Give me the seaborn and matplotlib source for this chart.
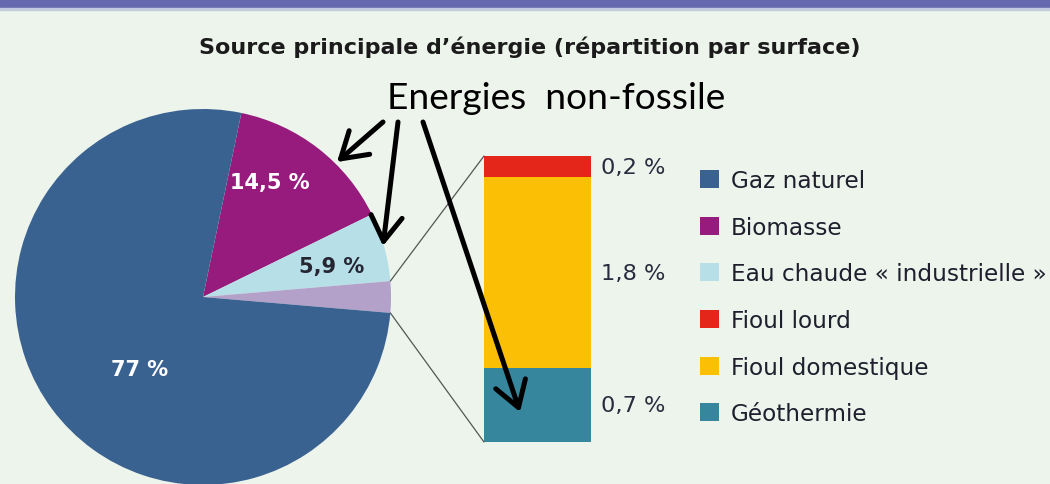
import matplotlib.pyplot as plt
import matplotlib.patches as mpatches
from matplotlib.patches import ConnectionPatch, FancyArrowPatch
import seaborn as sns
import numpy as np

# data
pie_labels = ["Biomasse", "Eau chaude « industrielle »", "Autres", "Gaz naturel"]
pie_values = [14.5, 5.9, 2.7, 77]
pie_colors = ["#971b7d", "#b6dfe8", "#b3a1c9", "#3a6291"]

bar_labels = ["Géothermie", "Fioul domestique", "Fioul lourd"]
bar_values = [0.7, 1.8, 0.2]
bar_colors = ["#36879d", "#fbc006", "#e3251a"]

legend_labels = ["Gaz naturel", "Biomasse", "Eau chaude « industrielle »",
                 "Fioul lourd", "Fioul domestique", "Géothermie"]
legend_colors = ["#3a6291", "#971b7d", "#b6dfe8", "#e3251a", "#fbc006", "#36879d"]

title = "Source principale d’énergie (répartition par surface)"
note = "Energies  non-fossile"


def fmt(v):
    return f"{v:g}".replace(".", ",") + " %"


bg = "#edf4ec"
sns.set_style("white")
plt.rcParams["font.family"] = ["DejaVu Sans"]

fig = plt.figure(figsize=(10.5, 4.85), dpi=100, facecolor=bg)
fig.patches.append(mpatches.Rectangle((0, 1 - 9 / 485), 1, 9 / 485, transform=fig.transFigure,
                                      color="#6669b0", zorder=0))
fig.patches.append(mpatches.Rectangle((0, 1 - 11 / 485), 1, 2 / 485, transform=fig.transFigure,
                                      color="#c3cbe0", zorder=0))

# pie
pax = fig.add_axes([15 / 1050, -1 / 485, 376 / 1050, 376 / 485])
total = sum(pie_values)
start = (pie_values[2] / 2 + pie_values[1] + pie_values[0]) / total * 360
pax.pie(pie_values, colors=pie_colors, startangle=start, counterclock=False,
        wedgeprops=dict(linewidth=0))
pax.set_xlim(-1, 1)
pax.set_ylim(-1, 1)
pax.axis("off")

pct_pos = [(0.356, 0.612), (0.686, 0.165), None, (-0.335, -0.383)]
pct_col = ["white", "#262633", None, "white"]
for v, p, c in zip(pie_values, pct_pos, pct_col):
    if p is None:
        continue
    pax.text(p[0], p[1], fmt(v), ha="center", va="center", fontsize=15,
             fontweight="bold", color=c)

# stacked bar
bax = fig.add_axes([484 / 1050, 42 / 485, 107 / 1050, 286 / 485])
bottoms = np.cumsum([0] + bar_values[:-1])
for v, b, c in zip(bar_values, bottoms, bar_colors):
    sns.barplot(x=[0], y=[v], bottom=b, color=c, width=1, saturation=1,
                errorbar=None, linewidth=0, ax=bax)
    bax.text(0.59, b + v / 2, fmt(v), ha="left", va="center", fontsize=16.2,
             color="#2b2b3f", clip_on=False)
bax.set_xlim(-0.5, 0.5)
bax.set_ylim(0, sum(bar_values))
bax.axis("off")

# connectors
half = np.deg2rad(pie_values[2] / 2 / total * 360)
for sgn, yb in [(1, sum(bar_values)), (-1, 0)]:
    con = ConnectionPatch(xyA=(np.cos(half), sgn * np.sin(half)), coordsA=pax.transData,
                          xyB=(-0.5, yb), coordsB=bax.transData,
                          color="#555555", lw=0.9)
    fig.add_artist(con)

# legend
handles = [mpatches.Patch(facecolor=c, edgecolor="none") for c in legend_colors]
fig.legend(handles, legend_labels, loc="upper left",
           bbox_to_anchor=(700 / 1050, 1 - 170 / 485), frameon=False,
           fontsize=16.7, handlelength=0.82, handleheight=0.82, handletextpad=0.52,
           labelspacing=1.02, borderpad=0, borderaxespad=0, labelcolor="#1f1f2e")

# title and note
fig.text(530 / 1050, 1 - 47 / 485, title, ha="center", va="center", fontsize=16,
         fontweight="bold", color="#1b1b1b")
fig.text(556 / 1050, 1 - 99 / 485, note, ha="center", va="center", fontsize=26.7,
         family=["Lato", "DejaVu Sans"], color="black")

arrows = [((383, 123), (337, 163)), ((398, 123), (383, 247)), ((423, 123), (520, 413))]
for (tx, ty), (hx, hy) in arrows:
    arr = FancyArrowPatch((tx / 1050, 1 - ty / 485), (hx / 1050, 1 - hy / 485),
                          arrowstyle="->,head_length=0.4,head_width=0.25",
                          mutation_scale=45, lw=3.6, color="black",
                          transform=fig.transFigure, shrinkA=0, shrinkB=0)
    fig.add_artist(arr)

fig.savefig("out.png", dpi=100, facecolor=bg)
